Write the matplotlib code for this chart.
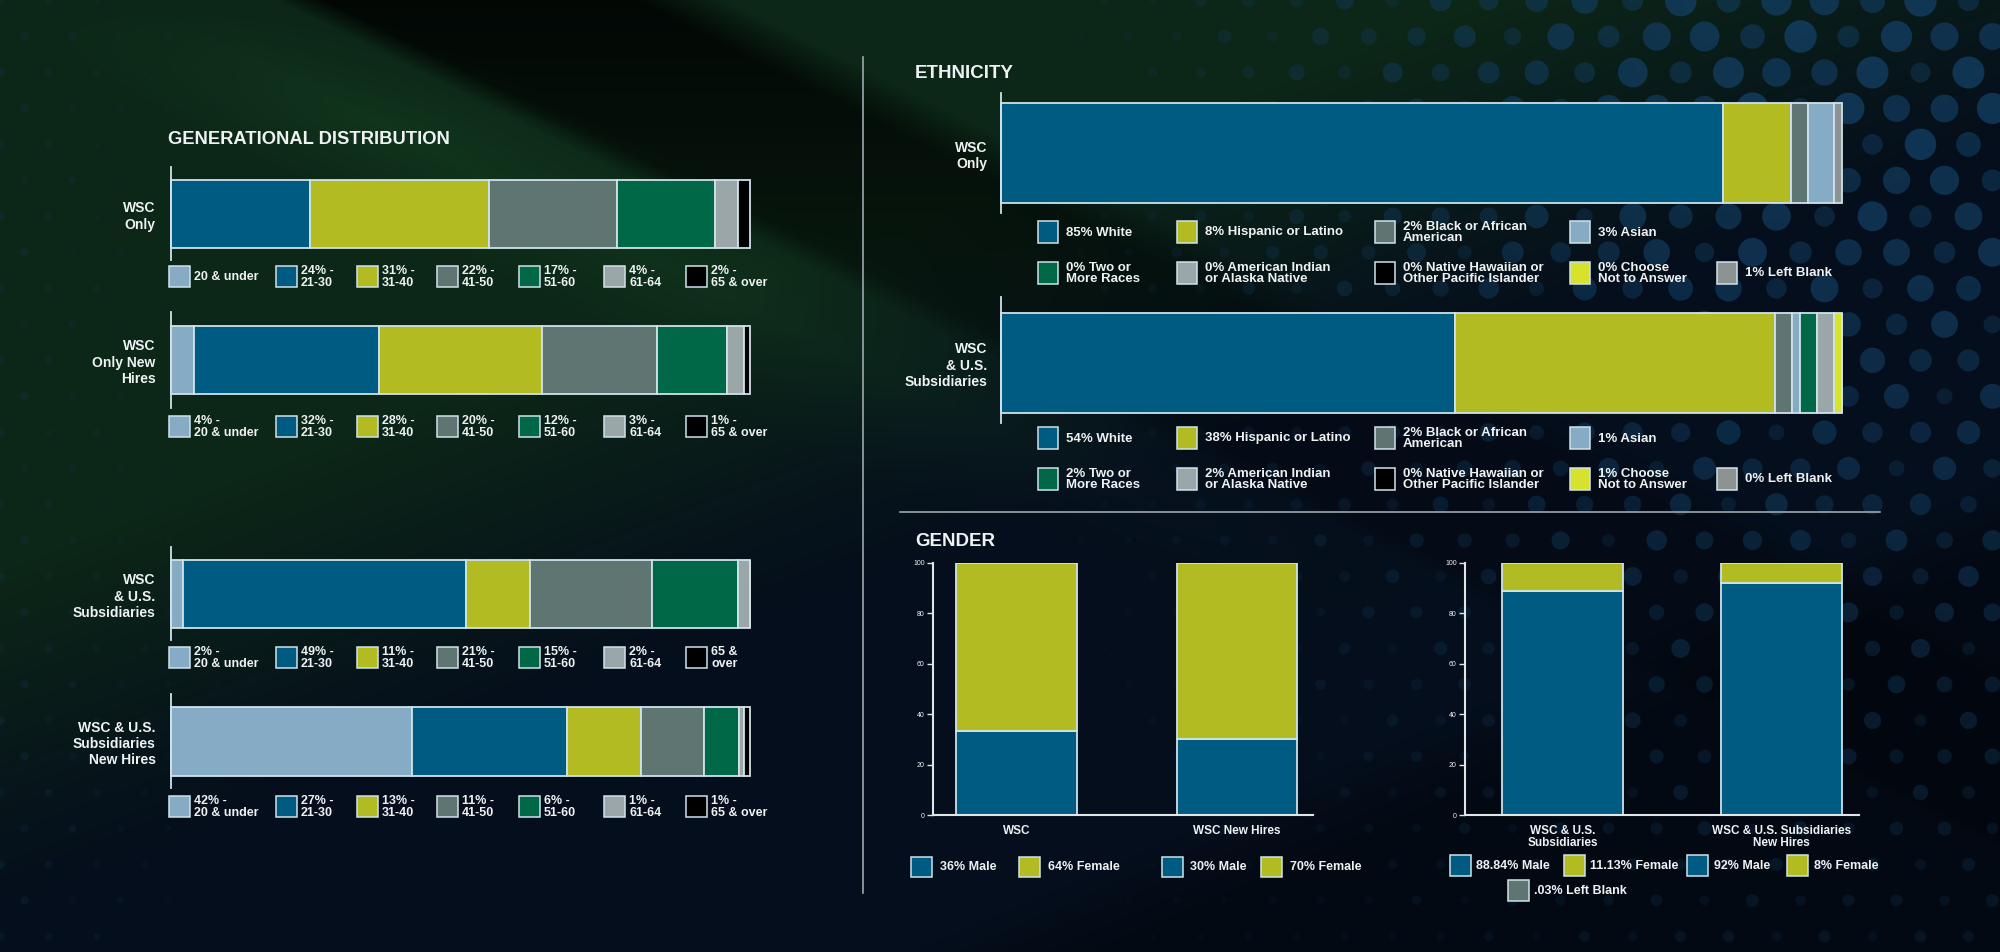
import numpy as np
import matplotlib
matplotlib.use("Agg")
import matplotlib.pyplot as plt
from matplotlib.patches import Rectangle

W, H = 2000, 952

# ---------------- data (percent) ----------------
age_groups = ["20 & under", "21-30", "31-40", "41-50", "51-60", "61-64", "65 & over"]
gen_rows = ["WSC\nOnly", "WSC\nOnly New\nHires", "WSC\n& U.S.\nSubsidiaries", "WSC & U.S.\nSubsidiaries\nNew Hires"]
gen_wsc = [0, 24, 31, 22, 17, 4, 2]
gen_wsc_new = [4, 32, 28, 20, 12, 3, 1]
gen_subs = [2, 49, 11, 21, 15, 2, 0]
gen_subs_new = [42, 27, 13, 11, 6, 1, 1]

eth_groups = ["White", "Hispanic or Latino", "Black or African\nAmerican", "Asian",
              "Two or\nMore Races", "American Indian\nor Alaska Native",
              "Native Hawaiian or\nOther Pacific Islander", "Choose\nNot to Answer", "Left Blank"]
eth_rows = ["WSC\nOnly", "WSC\n& U.S.\nSubsidiaries"]
eth_wsc = [85, 8, 2, 3, 0, 0, 0, 0, 1]
eth_subs = [54, 38, 2, 1, 2, 2, 0, 1, 0]

gl_cats = ["WSC", "WSC New Hires"]
gl_male = [33.5, 30]          # bar heights as drawn
gl_female = [66.5, 70]
gl_labels = ["36% Male", "64% Female", "30% Male", "70% Female"]

gr_cats = ["WSC & U.S.\nSubsidiaries", "WSC & U.S. Subsidiaries\nNew Hires"]
gr_male = [88.84, 92]
gr_female = [11.13, 8]
gr_blank = [0.03, 0]
gr_labels = ["88.84% Male", "11.13% Female", "92% Male", "8% Female", ".03% Left Blank"]

# ---------------- colours ----------------
BLUE = "#005b83"
OLIVE = "#b3bb22"
SLATE = "#5f7571"
GREEN = "#006846"
LGRAY = "#9aa6a7"
BLACK = "#000000"
LBLUE = "#86abc4"
YELLOW = "#d7e22c"
BLANK = "#8d9292"
EDGE = "#cfe2ea"
TXT = "#eef2f3"
LINE = "#9ea7ab"

gen_colors = [LBLUE, BLUE, OLIVE, SLATE, GREEN, LGRAY, BLACK]
eth_colors = [BLUE, OLIVE, SLATE, LBLUE, GREEN, LGRAY, BLACK, YELLOW, BLANK]

plt.rcParams['font.family'] = ['Liberation Sans', 'DejaVu Sans']

fig = plt.figure(figsize=(20, 9.52), dpi=100)

# ---------------- background ----------------
yy, xx = np.mgrid[0:H, 0:W].astype(float)
u = xx / W
v = yy / H
navy = np.array([5, 14, 28]) / 255
green = np.array([12, 38, 23]) / 255
gw = np.clip((0.95 - (0.8 * u + v)) / 0.35, 0, 1)[..., None]
img = navy * (1 - gw) + green * gw
# black diagonal band from the top
s = xx - 295 - 2.0 * yy
inband = np.clip((s + 20) / 50, 0, 1) * np.clip((430 - s) / 90, 0, 1)
img = img * (1 - 0.8 * inband * np.clip(1 - yy / 520, 0.25, 1))[..., None]
# soft green glow along the band edge
glow = np.clip(1 - np.abs(s + 160) / 220, 0, 1) * np.clip(yy / 120, 0, 1) * np.clip(1 - yy / 650, 0, 1)
img = img + glow[..., None] * np.array([6, 18, 7]) / 255
# darker lower right wedge
lw_ = np.clip(((yy - 913) + 0.433 * (xx - 1000)) / 80, 0, 1)
img = img * (1 - 0.3 * lw_)[..., None]
# dot pattern
sp = 48.0
rh = sp * 0.75
row = np.round(yy / rh)
off = (row % 2) * sp / 2
col = np.round((xx - off) / sp)
d = np.hypot(xx - (col * sp + off), yy - row * rh)
dw_r = np.clip((u - 0.5) / 0.35, 0, 1) * np.clip(1.1 - v * 0.85, 0, 1)
dw_l = 0.3 * np.clip((0.13 - u) / 0.13, 0, 1)
vary = 0.55 + 0.45 * np.abs(np.sin(col * 1.3 + row * 0.7))
rad = 2 + 14 * dw_r * vary + 7 * dw_l
mask = np.clip(rad - d + 0.7, 0, 1) * np.maximum(dw_r, dw_l) * vary * 0.85
mask = np.clip(mask, 0, 1)[..., None]
dotcol = np.array([18, 60, 95]) / 255
img = img * (1 - mask) + dotcol * mask
img = np.clip(img, 0, 1)

bg = fig.add_axes([0, 0, 1, 1])
bg.imshow(img, extent=[0, W, H, 0], aspect='auto', interpolation='bilinear')
bg.set_xlim(0, W)
bg.set_ylim(H, 0)
bg.axis('off')

# dividers
bg.plot([863, 863], [57, 893], color=LINE, lw=1.2)
bg.plot([900, 1880], [512, 512], color=LINE, lw=1.2)

# titles
bg.text(168, 139, "GENERATIONAL DISTRIBUTION", color=TXT, fontsize=13.2, fontweight='bold', va='center')
bg.text(915, 73, "ETHNICITY", color=TXT, fontsize=13.5, fontweight='bold', va='center')
bg.text(915, 541, "GENDER", color=TXT, fontsize=13.5, fontweight='bold', va='center')


def stacked_row(x0, x1, ax_top, bar_top, bar_bot, ax_bot, vals, colors, label, pad):
    ax = fig.add_axes([x0 / W, 1 - ax_bot / H, (x1 - x0) / W, (ax_bot - ax_top) / H])
    c = (bar_top + bar_bot) / 2
    left = np.concatenate([[0], np.cumsum(vals)[:-1]])
    bars = ax.barh(0, vals, left=left, height=bar_bot - bar_top, color=colors,
                   edgecolor=EDGE, linewidth=1.3)
    for b in bars:
        b.set_clip_on(False)
    ax.set_xlim(0, sum(vals))
    ax.set_ylim(-(ax_bot - c), c - ax_top)
    ax.patch.set_alpha(0)
    for sname in ['top', 'right', 'bottom']:
        ax.spines[sname].set_visible(False)
    ax.spines['left'].set_color(EDGE)
    ax.spines['left'].set_linewidth(1.3)
    ax.set_xticks([])
    ax.set_yticks([0], [label])
    ax.tick_params(axis='y', length=0, pad=pad, labelsize=10, labelcolor=TXT)
    for t in ax.get_yticklabels():
        t.set_fontweight('bold')
        t.set_multialignment('right')
    return ax


def legend_row(xs, y0, h, w, dx, labels, colors, fs, weight='bold', ls=1.0):
    for x, lab, colr in zip(xs, labels, colors):
        bg.add_patch(Rectangle((x, y0), w, h, facecolor=colr, edgecolor=EDGE, lw=1.1))
        bg.text(x + dx, y0 + h / 2 + 0.5, lab, color=TXT, fontsize=fs, fontweight=weight,
                va='center', ha='left', linespacing=ls)


def gen_labels(vals):
    out = []
    for val, a in zip(vals, age_groups):
        out.append(f"{val}% -\n{a}" if val > 0 else a.replace("& over", "&\nover"))
    return out


# ---------------- generational distribution ----------------
gen_data = [gen_wsc, gen_wsc_new, gen_subs, gen_subs_new]
gen_geom = [(167, 180, 248, 260, 266),
            (312, 326, 394, 408, 416),
            (547, 560, 628, 640, 647),
            (694, 707, 776, 788, 796)]
gen_leg_x = [169, 276, 357, 437, 519, 604, 686]
for vals, lab, (at, bt, bb, ab, lt) in zip(gen_data, gen_rows, gen_geom):
    stacked_row(171, 750, at, bt, bb, ab, vals, gen_colors, lab, pad=11)
    legend_row(gen_leg_x, lt, 21, 21, 25, gen_labels(vals), gen_colors, 9, ls=0.95)

# ---------------- ethnicity ----------------
eth_data = [eth_wsc, eth_subs]
eth_geom = [(93, 103, 203, 213, 221, 262),
            (297, 313, 413, 423, 427, 468)]
row1_x = [1038, 1177, 1375, 1570]
row2_x = [1038, 1177, 1375, 1570, 1717]
for vals, lab, (at, bt, bb, ab, l1, l2) in zip(eth_data, eth_rows, eth_geom):
    stacked_row(1001, 1842, at, bt, bb, ab, vals, eth_colors, lab, pad=10)
    labs = [f"{val}% {g}" for val, g in zip(vals, eth_groups)]
    legend_row(row1_x, l1, 22, 20, 28, labs[:4], eth_colors[:4], 9.5, ls=0.95)
    legend_row(row2_x, l2, 22, 20, 28, labs[4:], eth_colors[4:], 9.5, ls=0.95)


# ---------------- gender ----------------
def gender_chart(x0, x1, xlim, width, cats, male, female, blank=None):
    ax = fig.add_axes([x0 / W, 1 - 815 / H, (x1 - x0) / W, (815 - 563) / H])
    x = np.arange(len(cats))
    ax.bar(x, male, width=width, color=BLUE, edgecolor=EDGE, linewidth=1.3)
    ax.bar(x, female, width=width, bottom=male, color=OLIVE, edgecolor=EDGE, linewidth=1.3)
    if blank is not None:
        ax.bar(x, blank, width=width, bottom=np.add(male, female), color=SLATE, linewidth=0)
    ax.set_xlim(*xlim)
    ax.set_ylim(0, 100)
    ax.patch.set_alpha(0)
    for sname in ['top', 'right']:
        ax.spines[sname].set_visible(False)
    for sname in ['left', 'bottom']:
        ax.spines[sname].set_color("#dfe6e8")
        ax.spines[sname].set_linewidth(1.5)
    ax.set_yticks(range(0, 101, 20))
    ax.tick_params(axis='y', length=4, width=1, color="#dfe6e8", labelsize=5, labelcolor=TXT, pad=2)
    ax.set_xticks(x, cats)
    ax.tick_params(axis='x', length=0, pad=7, labelsize=8.5, labelcolor=TXT)
    for t in ax.get_xticklabels():
        t.set_fontweight('bold')
        t.set_linespacing(1.05)
    return ax


gender_chart(933, 1313, (-0.378, 1.344), 0.547, gl_cats, gl_male, gl_female)
legend_row([911, 1019, 1162, 1261], 857, 20, 21, 28.5, gl_labels,
           [BLUE, OLIVE, BLUE, OLIVE], 9)

gender_chart(1465, 1859, (-0.445, 1.352), 0.552, gr_cats, gr_male, gr_female, gr_blank)
legend_row([1450, 1564, 1687, 1787], 855, 21, 21, 26.5, gr_labels[:4],
           [BLUE, OLIVE, BLUE, OLIVE], 9)
legend_row([1508], 880, 21, 21, 26.5, gr_labels[4:], [SLATE], 9)

fig.savefig("out.png", dpi=100)
